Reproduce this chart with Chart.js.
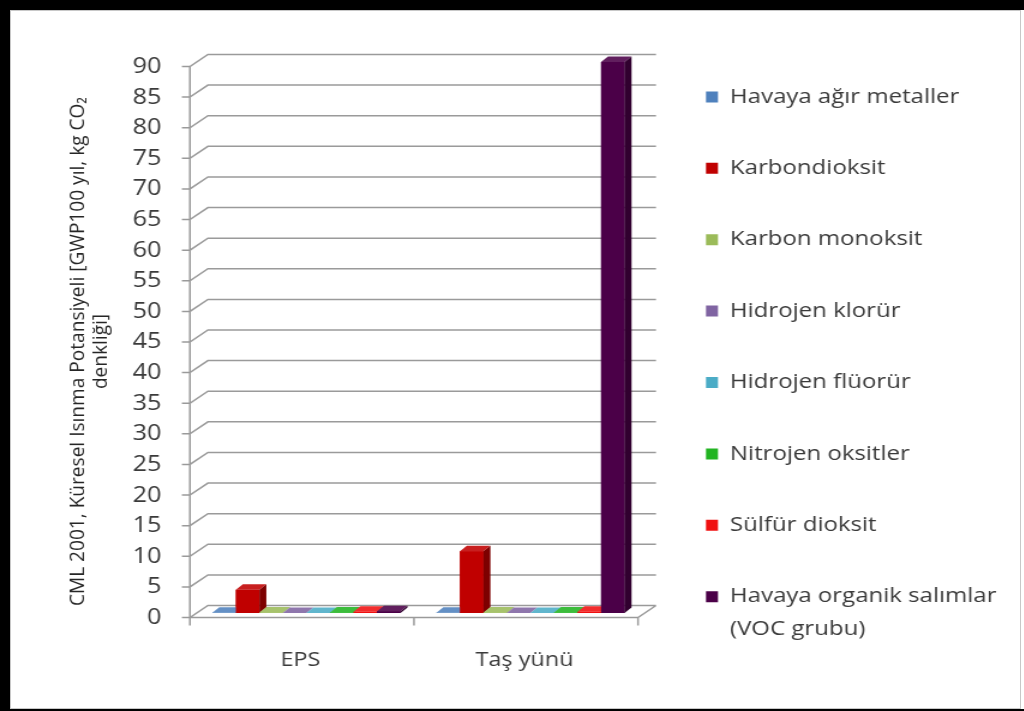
<!DOCTYPE html>
<html>
<head>
<meta charset="utf-8">
<script src="https://cdn.jsdelivr.net/npm/chart.js@4.4.1/dist/chart.umd.min.js"></script>
<style>
    html, body { margin: 0; padding: 0; background: #fff; }
    #frame { position: absolute; left: 0; top: 0; width: 1024px; height: 711px; box-sizing: border-box;
             border-left: 10px solid #000; border-top: 10px solid #000; border-bottom: 2px solid #000; }
    #inner { position: absolute; left: 0; top: 0; right: 3px; bottom: 0; border: 1px solid #c8c8c8; }
    #wrap { position: absolute; left: 12px; top: 12px; width: 1008px; height: 695px; }
</style>
</head>
<body>
<div id="frame"><div id="inner"></div></div>
<!-- the original picture is stretched sideways, so the canvas is too (840 -> 1008) -->
<div id="wrap"><canvas id="gwpChart" width="840" height="695" style="width:1008px;height:695px;display:block"></canvas></div>
<script>
// data
const categories = ['EPS', 'Taş yünü'];
const seriesLabels = ['Havaya ağır metaller', 'Karbondioksit', 'Karbon monoksit', 'Hidrojen klorür',
    'Hidrojen flüorür', 'Nitrojen oksitler', 'Sülfür dioksit', ['Havaya organik salımlar', '(VOC grubu)']];
const havayaAgirMetaller = [0.05, 0.05];
const karbondioksit = [3.8, 10.1];
const karbonMonoksit = [0.1, 0.1];
const hidrojenKlorur = [0.02, 0.02];
const hidrojenFluorur = [0.02, 0.02];
const nitrojenOksitler = [0.1, 0.1];
const sulfurDioksit = [0.2, 0.2];
const vocGrubu = [0.3, 90];
const yTickValues = [0, 5, 10, 15, 20, 25, 30, 35, 40, 45, 50, 55, 60, 65, 70, 75, 80, 85, 90];
const yTitleLines = ['CML 2001, Küresel Isınma Potansiyeli [GWP100 yıl, kg CO₂', 'denkliği]'];

const seriesValues = [havayaAgirMetaller, karbondioksit, karbonMonoksit, hidrojenKlorur,
    hidrojenFluorur, nitrojenOksitler, sulfurDioksit, vocGrubu];
const seriesColors = ['#4F81BD', '#C00000', '#9BBB59', '#8064A2', '#4BACC6', '#22B422', '#F01010', '#4B0048'];

const textColor = '#3a3a3a';
const gridColor = '#9a9a9a';
// 3d offsets (canvas units), relative to the plane where the bars sit
const FRONT = { dx: -3.75, dy: 4.5 };
const BACK = { dx: 11.25, dy: -7.5 };
const BAR_DEPTH = { dx: 5.8, dy: -5.5 };
const TICK_LEN = 6.7;

function shade(hex, f) {
    const n = parseInt(hex.slice(1), 16);
    let c = [n >> 16, (n >> 8) & 255, n & 255];
    c = c.map(v => f < 0 ? v * (1 + f) : v + (255 - v) * f);
    return 'rgb(' + c.map(v => Math.round(v)).join(',') + ')';
}

const walls3d = {
    id: 'walls3d',
    beforeInit(chart) {
        const legend = chart.legend;
        const fit = legend.fit;
        legend.fit = function() {
            this.maxHeight = Math.max(this.maxHeight, 900);
            fit.call(this);
            this.width = 314.6;
        };
    },
    afterLayout(chart) {
        const l = chart.legend;
        const w = l.right - l.left, h = l.bottom - l.top;
        l.left = 526.9; l.right = l.left + w;
        l.top = 23.5; l.bottom = l.top + h;
    },
    beforeDatasetsDraw(chart) {
        const { ctx, chartArea: a, scales: { x, y } } = chart;
        ctx.save();
        ctx.strokeStyle = gridColor;
        ctx.lineWidth = 1.5;
        ctx.beginPath();
        y.ticks.forEach(t => {
            const py = y.getPixelForValue(t.value);
            const fx = a.left + FRONT.dx, fy = py + FRONT.dy;
            const by = py + BACK.dy;
            ctx.moveTo(fx - TICK_LEN, fy);
            ctx.lineTo(fx, fy);
            ctx.lineTo(a.left + BACK.dx, by);
            ctx.lineTo(a.right + BACK.dx, by);
        });
        const y0 = y.getPixelForValue(0);
        const yTop = y.getPixelForValue(yTickValues[yTickValues.length - 1]);
        ctx.moveTo(a.left + FRONT.dx, yTop + FRONT.dy);
        ctx.lineTo(a.left + FRONT.dx, y0 + FRONT.dy);
        ctx.lineTo(a.right + FRONT.dx, y0 + FRONT.dy);
        ctx.lineTo(a.right + BACK.dx, y0 + BACK.dy);
        const mid = (x.getPixelForValue(0) + x.getPixelForValue(1)) / 2;
        [a.left, mid, a.right].forEach(bx => {
            ctx.moveTo(bx + FRONT.dx, y0 + FRONT.dy);
            ctx.lineTo(bx + FRONT.dx, y0 + FRONT.dy + 8);
        });
        ctx.stroke();
        ctx.restore();
    },
    afterDatasetsDraw(chart) {
        const ctx = chart.ctx;
        const bars = [];
        chart.data.datasets.forEach((ds, di) => {
            chart.getDatasetMeta(di).data.forEach(el => {
                const p = el.getProps(['x', 'y', 'base', 'width'], true);
                bars.push({ p, color: ds.backgroundColor });
            });
        });
        bars.sort((a, b) => a.p.x - b.p.x);
        ctx.save();
        bars.forEach(({ p, color }) => {
            const l = p.x - p.width / 2, r = p.x + p.width / 2;
            const d = BAR_DEPTH;
            ctx.fillStyle = color;
            ctx.fillRect(l, p.y, r - l, p.base - p.y);
            ctx.fillStyle = shade(color, 0.12);
            ctx.beginPath();
            ctx.moveTo(l, p.y); ctx.lineTo(l + d.dx, p.y + d.dy);
            ctx.lineTo(r + d.dx, p.y + d.dy); ctx.lineTo(r, p.y);
            ctx.closePath(); ctx.fill();
            ctx.fillStyle = shade(color, -0.35);
            ctx.beginPath();
            ctx.moveTo(r, p.y); ctx.lineTo(r + d.dx, p.y + d.dy);
            ctx.lineTo(r + d.dx, p.base + d.dy); ctx.lineTo(r, p.base);
            ctx.closePath(); ctx.fill();
        });
        ctx.restore();
    },
    afterDraw(chart) {
        const ctx = chart.ctx;
        ctx.save();
        ctx.font = '17px "Open Sans", sans-serif';
        ctx.fillStyle = '#262626';
        ctx.translate(55, 339.5);
        ctx.rotate(-Math.PI / 2);
        const k = 509 / ctx.measureText(yTitleLines[0]).width;
        ctx.scale(k, 1);
        ctx.textAlign = 'center';
        ctx.textBaseline = 'middle';
        ctx.fillText(yTitleLines[0], 0, 0);
        ctx.fillText(yTitleLines[1], 0, 19.2);
        ctx.restore();
    }
};

const ctx = document.getElementById('gwpChart').getContext('2d');
const gwpChart = new Chart(ctx, {
    type: 'bar',
    data: {
        labels: categories,
        datasets: seriesLabels.map((label, i) => ({
            label: label,
            data: seriesValues[i],
            backgroundColor: seriesColors[i],
            borderWidth: 0,
            categoryPercentage: 0.84,
            barPercentage: 1
        }))
    },
    options: {
        responsive: false,
        animation: false,
        devicePixelRatio: 1,
        layout: { padding: { top: 50, left: 0, right: 0, bottom: 0 } },
        scales: {
            x: {
                grid: { display: false, drawTicks: false },
                border: { display: false },
                ticks: { color: textColor, padding: 36, labelOffset: -5,
                         font: { family: 'Open Sans', size: 19.5 } },
                afterFit: function(scale) { scale.height = 94; }
            },
            y: {
                min: 0,
                max: 90,
                grid: { display: false, drawTicks: false },
                border: { display: false },
                ticks: { color: textColor, padding: 27.5, labelOffset: 5,
                         font: { family: 'Open Sans', size: 21 } },
                afterBuildTicks: function(scale) {
                    scale.ticks = yTickValues.map(v => ({ value: v }));
                },
                afterFit: function(scale) { scale.width = 152; }
            }
        },
        plugins: {
            legend: {
                position: 'right',
                align: 'start',
                labels: {
                    boxWidth: 10,
                    boxHeight: 11,
                    padding: 51.4,
                    color: textColor,
                    font: { family: 'Open Sans', size: 20, lineHeight: 1.65 }
                }
            },
            tooltip: { enabled: false }
        }
    },
    plugins: [walls3d]
});
</script>
</body>
</html>
